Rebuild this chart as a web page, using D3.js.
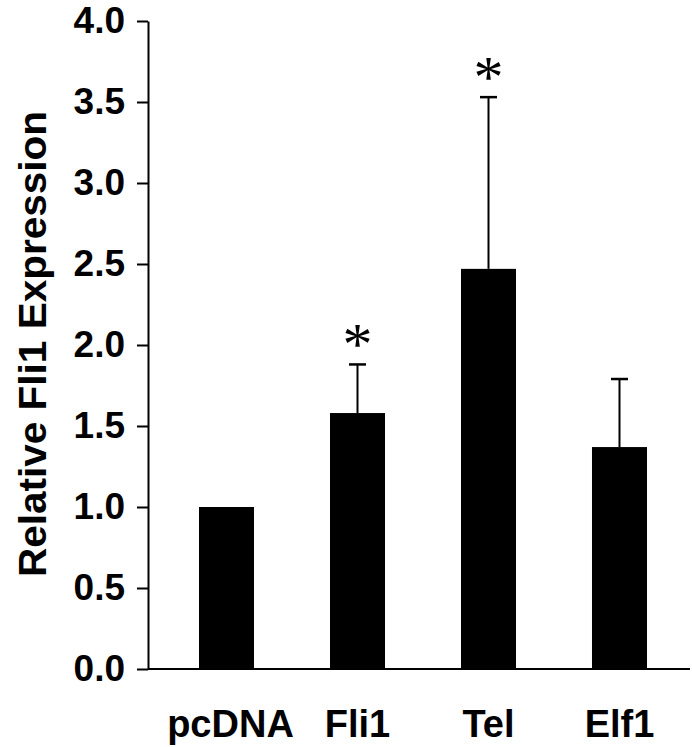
<!DOCTYPE html>
<html>
<head>
<meta charset="utf-8">
<script src="https://cdn.jsdelivr.net/npm/d3@7"></script>
<style>
  body { margin: 0; background: #fff; }
  svg { display: block; }
</style>
</head>
<body>
<svg id="chart" width="692" height="747"></svg>
<script>
var categories = ['pcDNA', 'Fli1', 'Tel', 'Elf1']
var means = [1.0, 1.58, 2.47, 1.37]
var upperErr = [0, 0.30, 1.06, 0.42]
var significant = [false, true, true, false]
var yTicks = [0, 0.5, 1.0, 1.5, 2.0, 2.5, 3.0, 3.5, 4.0]

var font = 'Liberation Sans, Arial, Helvetica, sans-serif'

var svg = d3.select('#chart')

var y = d3.scaleLinear().domain([0, 4]).range([669, 21])
var x = d3.scaleBand().domain(categories).range([161, 685])
  .paddingInner(0.58).paddingOuter(0.29)

var data = categories.map(function(c, i) {
  return {name: c, mean: means[i], err: upperErr[i], sig: significant[i]}
})

// y axis
var yAxis = svg.append('g')
  .attr('transform', 'translate(148,0)')
  .call(d3.axisLeft(y).tickValues(yTicks).tickFormat(d3.format('.1f'))
    .tickSize(11).tickSizeOuter(0).tickPadding(12))
yAxis.selectAll('path, line').attr('stroke', '#000').attr('stroke-width', 2)
yAxis.selectAll('text')
  .attr('fill', '#000')
  .style('font-family', font)
  .style('font-weight', 'bold')
  .style('font-size', '37px')

// baseline
svg.append('line')
  .attr('x1', 148).attr('x2', 690)
  .attr('y1', y(0)).attr('y2', y(0))
  .attr('stroke', '#000').attr('stroke-width', 2)

// bars
svg.selectAll('rect.bar')
  .data(data)
  .enter()
  .append('rect')
  .attr('class', 'bar')
  .attr('x', function(d) { return x(d.name) })
  .attr('width', x.bandwidth())
  .attr('y', function(d) { return y(d.mean) })
  .attr('height', function(d) { return y(0) - y(d.mean) })
  .attr('fill', '#000')

// error bars (upper only)
var errData = data.filter(function(d) { return d.err > 0 })
var capW = 17
svg.selectAll('line.err')
  .data(errData)
  .enter()
  .append('line')
  .attr('class', 'err')
  .attr('x1', function(d) { return x(d.name) + x.bandwidth() / 2 })
  .attr('x2', function(d) { return x(d.name) + x.bandwidth() / 2 })
  .attr('y1', function(d) { return y(d.mean) })
  .attr('y2', function(d) { return y(d.mean + d.err) })
  .attr('stroke', '#000').attr('stroke-width', 2)

svg.selectAll('line.cap')
  .data(errData)
  .enter()
  .append('line')
  .attr('class', 'cap')
  .attr('x1', function(d) { return x(d.name) + x.bandwidth() / 2 - capW / 2 })
  .attr('x2', function(d) { return x(d.name) + x.bandwidth() / 2 + capW / 2 })
  .attr('y1', function(d) { return y(d.mean + d.err) })
  .attr('y2', function(d) { return y(d.mean + d.err) })
  .attr('stroke', '#000').attr('stroke-width', 2.5)

// asterisks above the caps
svg.selectAll('text.sig')
  .data(data.filter(function(d) { return d.sig }))
  .enter()
  .append('text')
  .attr('class', 'sig')
  .attr('x', function(d) { return x(d.name) + x.bandwidth() / 2 })
  .attr('y', function(d) { return y(d.mean + d.err) - 30 })
  .attr('text-anchor', 'middle')
  .style('font-family', 'Liberation Serif, Times New Roman, serif')
  .style('font-size', '60px')
  .attr('dy', '0.5em')
  .text('*')

// x labels
svg.selectAll('text.xlab')
  .data(data)
  .enter()
  .append('text')
  .attr('class', 'xlab')
  .attr('x', function(d) { return x(d.name) + x.bandwidth() / 2 + (d.name === 'pcDNA' ? 4 : 0) })
  .attr('y', 737)
  .attr('text-anchor', 'middle')
  .style('font-family', font)
  .style('font-weight', 'bold')
  .style('font-size', '38px')
  .text(function(d) { return d.name })

// y label
svg.append('text')
  .attr('transform', 'translate(46,344) rotate(-90)')
  .attr('text-anchor', 'middle')
  .attr('textLength', 466)
  .attr('lengthAdjust', 'spacingAndGlyphs')
  .style('font-family', font)
  .style('font-weight', 'bold')
  .style('font-size', '38px')
  .text('Relative Fli1 Expression')
</script>
</body>
</html>
